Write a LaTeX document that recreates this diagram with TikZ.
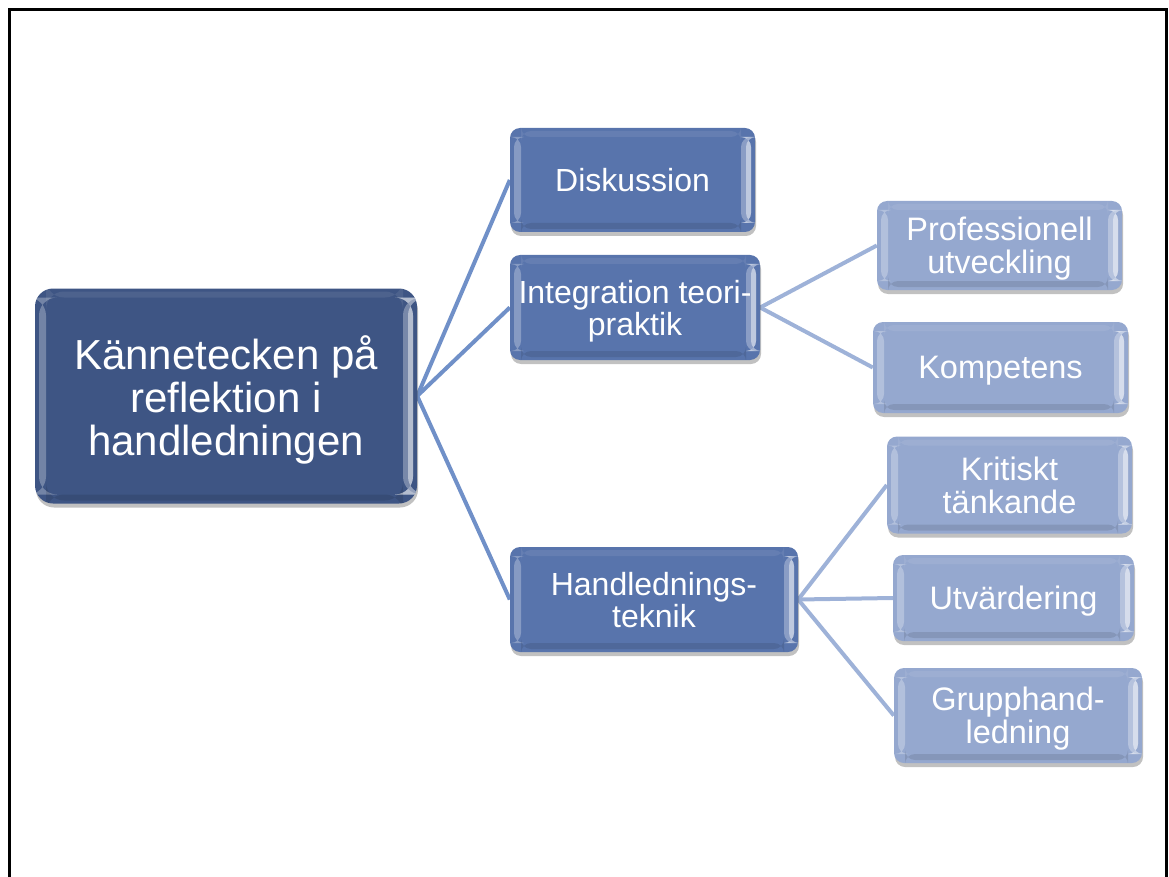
\documentclass[tikz,border=0pt]{standalone}
\usepackage{fontspec}
\setmainfont{Liberation Sans}
\usetikzlibrary{shadows,backgrounds,fadings}
\definecolor{rootblue}{HTML}{3E5584}
\definecolor{midblue}{HTML}{5874AC}
\definecolor{lightblue}{HTML}{95A8CF}
\definecolor{connA}{HTML}{7090C8}
\definecolor{connB}{HTML}{9EB2D8}
\tikzset{
  bevelbox/.style={
    rounded corners=#1, text=white, align=center, inner sep=0pt, text depth=0pt,
    drop shadow={shadow xshift=1pt, shadow yshift=-4pt, opacity=.35, fill=black!70},
    path picture={
      \fill[white,opacity=.28] ([xshift=4pt,yshift=-9pt]path picture bounding box.north west) rectangle ([xshift=11pt,yshift=9pt]path picture bounding box.south west);
      \fill[white,opacity=.30] ([xshift=-14pt,yshift=-9pt]path picture bounding box.north east) rectangle ([xshift=-4pt,yshift=9pt]path picture bounding box.south east);
      \fill[white,opacity=.45] ([xshift=-9pt,yshift=-9pt]path picture bounding box.north east) rectangle ([xshift=-4pt,yshift=9pt]path picture bounding box.south east);
      \fill[black,opacity=.10] ([xshift=11pt,yshift=9pt]path picture bounding box.south west) rectangle ([xshift=-14pt,yshift=3pt]path picture bounding box.south east);
      \fill[white,opacity=.08] ([xshift=11pt,yshift=-3pt]path picture bounding box.north west) rectangle ([xshift=-14pt,yshift=-9pt]path picture bounding box.north east);
    }
  },
  rootbox/.style={bevelbox=18pt, fill=rootblue, font=\fontsize{42}{43}\selectfont},
  midbox/.style={bevelbox=10pt, fill=midblue, font=\fontsize{32}{32}\selectfont},
  leafbox/.style={bevelbox=10pt, fill=lightblue, font=\fontsize{32.5}{33}\selectfont},
  connone/.style={draw=connA, line width=4pt},
  conntwo/.style={draw=connB, line width=4pt},
  frameline/.style={draw=black, line width=3pt}
}
\begin{document}
\begin{tikzpicture}[x=1pt,y=-1pt]
\useasboundingbox (0,0) rectangle (1169,877);
\coordinate (fbl) at (9.5,877);
\coordinate (ftl) at (9.5,10);
\coordinate (ftr) at (1166,10);
\coordinate (fbr) at (1166,877);
\draw[frameline] (fbl) -- (ftl) -- (ftr) -- (fbr);

\node[rootbox, minimum width=382pt, minimum height=215pt] (root) at (226,396) {Kännetecken på\\reflektion i\\handledningen};

\node[midbox, minimum width=245pt, minimum height=104pt] (disk) at (632.5,180) {Diskussion};
\node[midbox, minimum width=250pt, minimum height=105pt] (integ) at (635,307.5) {Integration teori-\\praktik};
\node[midbox, minimum width=288pt, minimum height=105pt] (handl) at (654,599.5) {Handlednings-\\teknik};

\node[leafbox, minimum width=245pt, minimum height=89pt] (prof) at (999.5,245.5) {Professionell\\utveckling};
\node[leafbox, minimum width=255pt, minimum height=91pt] (komp) at (1000.5,367.5) {Kompetens};
\node[leafbox, minimum width=245pt, minimum height=97pt] (krit) at (1009.5,485) {Kritiskt\\tänkande};
\node[leafbox, minimum width=241pt, minimum height=86pt] (utv) at (1013.5,598) {Utvärdering};
\node[leafbox, minimum width=248pt, minimum height=95pt] (grupp) at (1018,715.5) {Grupphand-\\ledning};

\begin{pgfonlayer}{background}
\draw[connone] (root.east) -- (disk.west);
\draw[connone] (root.east) -- (integ.west);
\draw[connone] (root.east) -- (handl.west);
\draw[conntwo] (integ.east) -- (prof.west);
\draw[conntwo] (integ.east) -- (komp.west);
\draw[conntwo] (handl.east) -- (krit.west);
\draw[conntwo] (handl.east) -- (utv.west);
\draw[conntwo] (handl.east) -- (grupp.west);
\end{pgfonlayer}
\end{tikzpicture}
\end{document}
